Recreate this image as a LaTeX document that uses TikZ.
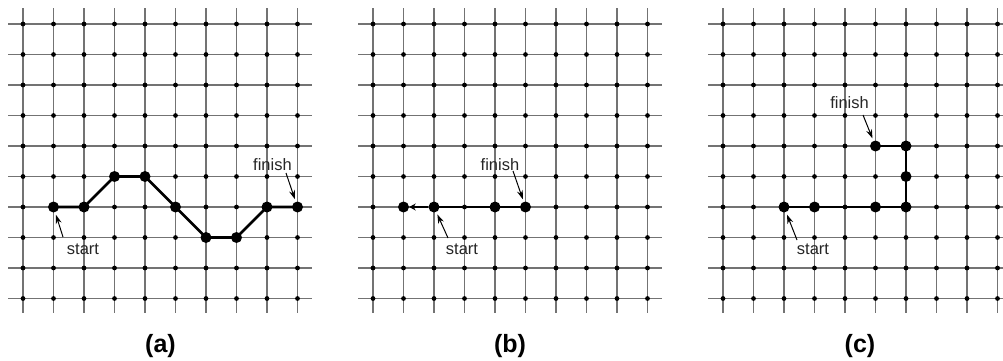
\documentclass[tikz,border=0pt]{standalone}
\usepackage{fontspec}
\setmainfont{Liberation Sans}
\usetikzlibrary{arrows.meta}
\begin{document}
\begin{tikzpicture}[x=1pt,y=-1pt,
  gridline/.style={line width=1.3pt, black!55},
  bigdot/.style={circle, fill=black, inner sep=0pt, minimum size=11pt},
  pathline/.style={line width=2.8pt, black},
  pointer/.style={line width=1pt, black, shorten >=2.5pt, -{Stealth[length=9pt,width=6pt]}},
  lbl/.style={font=\fontsize{16.5}{18}\selectfont, inner sep=0pt, text=black!85},
  caption/.style={font=\fontsize{25}{28}\selectfont\bfseries, inner sep=0pt}]
\useasboundingbox (0,0) rectangle (1003,361);
% grids
\foreach \ox in {23,373,723}{
  \begin{scope}[shift={(\ox,24)}, x=30.5pt, y=-30.5pt]
    \foreach \i in {0,...,9}{
      \draw[gridline] (-0.49,\i) -- (9.49,\i);
      \draw[gridline] (\i,-0.52) -- (\i,9.49);
    }
    \foreach \i in {0,...,9}{
      \foreach \j in {0,...,9}{
        \fill (\i,\j) circle (2.4pt);
      }
    }
  \end{scope}
}
% panel (a)
\begin{scope}[shift={(23,24)}, x=30.5pt, y=-30.5pt]
  \node[bigdot] (a1) at (1,6) {};
  \node[bigdot] (a2) at (2,6) {};
  \node[bigdot] (a3) at (3,5) {};
  \node[bigdot] (a4) at (4,5) {};
  \node[bigdot] (a5) at (5,6) {};
  \node[bigdot] (a6) at (6,7) {};
  \node[bigdot] (a7) at (7,7) {};
  \node[bigdot] (a8) at (8,6) {};
  \node[bigdot] (a9) at (9,6) {};
\end{scope}
\draw[pathline] (a1.center) -- (a2.center) -- (a3.center) -- (a4.center) -- (a5.center) -- (a6.center) -- (a7.center) -- (a8.center) -- (a9.center);
\node[lbl] (astart) at (83,249.5) {start};
\node[lbl] (afinish) at (272.5,165) {finish};
\coordinate (astarttail) at (63,237);
\coordinate (afinishtail) at (286,173);
\draw[pointer] (astarttail) -- (a1);
\draw[pointer] (afinishtail) -- (a9);
% panel (b)
\begin{scope}[shift={(373,24)}, x=30.5pt, y=-30.5pt]
  \node[bigdot] (b1) at (1,6) {};
  \node[bigdot] (b2) at (2,6) {};
  \node[bigdot] (b4) at (4,6) {};
  \node[bigdot] (b5) at (5,6) {};
\end{scope}
\draw[pathline] (b2.center) -- (b4.center) -- (b5.center);
\draw[line width=2.2pt, -{Stealth[length=6.5pt,width=7pt]}] (b2) -- (b1);
\node[lbl] (bstart) at (462,249.5) {start};
\node[lbl] (bfinish) at (500,165) {finish};
\coordinate (bstarttail) at (448,238);
\coordinate (bfinishtail) at (513,171);
\draw[pointer] (bstarttail) -- (b2);
\draw[pointer] (bfinishtail) -- (b5);
% panel (c)
\begin{scope}[shift={(723,24)}, x=30.5pt, y=-30.5pt]
  \node[bigdot] (c1) at (2,6) {};
  \node[bigdot] (c2) at (3,6) {};
  \node[bigdot] (c3) at (5,6) {};
  \node[bigdot] (c4) at (6,6) {};
  \node[bigdot] (c5) at (6,5) {};
  \node[bigdot] (c6) at (6,4) {};
  \node[bigdot] (c7) at (5,4) {};
\end{scope}
\draw[pathline] (c1.center) -- (c2.center) -- (c3.center) -- (c4.center) -- (c5.center) -- (c6.center) -- (c7.center);
\node[lbl] (cstart) at (813,249.5) {start};
\node[lbl] (cfinish) at (849.5,103) {finish};
\coordinate (cstarttail) at (797,240);
\coordinate (cfinishtail) at (863,115);
\draw[pointer] (cstarttail) -- (c1);
\draw[pointer] (cfinishtail) -- (c7);
% captions
\node[caption] (capa) at (160.5,346) {(a)};
\node[caption] (capb) at (510,346) {(b)};
\node[caption] (capc) at (860,346) {(c)};
\end{tikzpicture}
\end{document}
